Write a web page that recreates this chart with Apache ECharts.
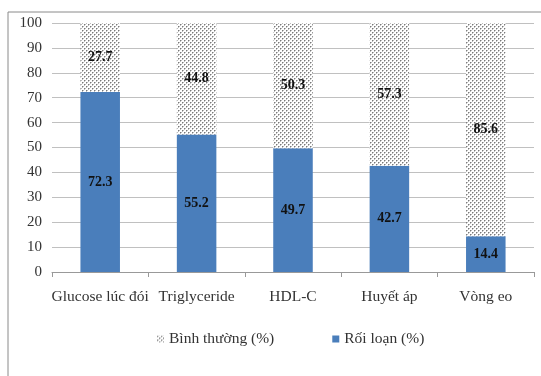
<!DOCTYPE html>
<html>
<head>
<meta charset="utf-8">
<script src="https://cdn.jsdelivr.net/npm/echarts@6/dist/echarts.min.js"></script>
<style>
  html, body { margin: 0; padding: 0; background: #fff; }
  #chart { width: 541px; height: 376px; }
</style>
</head>
<body>
<div id="chart"></div>
<script>
// Metabolic components: share of disordered vs normal (%)
const categories = ['Glucose lúc đói', 'Triglyceride', 'HDL-C', 'Huyết áp', 'Vòng eo'];
const disorderValues = [72.3, 55.2, 49.7, 42.7, 14.4];
const normalValues = [27.7, 44.8, 50.3, 57.3, 85.6];
const yTicks = [0, 10, 20, 30, 40, 50, 60, 70, 80, 90, 100];

// Dotted fill for the "normal" segment
function dotPattern() {
  const c = document.createElement('canvas');
  c.width = 4; c.height = 4;
  const ctx = c.getContext('2d');
  ctx.fillStyle = '#ffffff';
  ctx.fillRect(0, 0, 4, 4);
  ctx.fillStyle = '#7a7a7a';
  ctx.fillRect(0, 0, 1, 1);
  ctx.fillRect(2, 2, 1, 1);
  ctx.fillStyle = '#bdbdbd';
  ctx.fillRect(1, 0, 1, 1);
  ctx.fillRect(3, 2, 1, 1);
  ctx.fillRect(0, 1, 1, 1);
  ctx.fillRect(2, 3, 1, 1);
  return c;
}

const chart = echarts.init(document.getElementById('chart'), null, { renderer: 'canvas' });
const serif = '"Liberation Serif", "DejaVu Serif", serif';
const valueLabel = {
  show: true,
  position: 'inside',
  fontFamily: serif,
  fontWeight: 'bold',
  fontSize: 14,
  color: '#111'
};

chart.setOption({
  animation: false,
  graphic: [{
    type: 'rect',
    shape: { x: 8, y: 12, width: 560, height: 400 },
    style: { fill: 'none', stroke: '#8a8a8a', lineWidth: 1 },
    silent: true,
    z: -1
  }],
  grid: { left: 52, right: 7, top: 23, bottom: 104 },
  legend: {
    data: ['Bình thường (%)', 'Rối loạn (%)'],
    icon: 'rect',
    bottom: 24,
    left: 152,
    itemWidth: 7,
    itemHeight: 7,
    itemGap: 58,
    textStyle: { fontFamily: serif, fontSize: 15.5, color: '#333' }
  },
  xAxis: {
    type: 'category',
    data: categories,
    axisLine: { lineStyle: { color: '#999' } },
    axisTick: { show: true, lineStyle: { color: '#999' }, length: 5 },
    axisLabel: { interval: 0, fontFamily: serif, fontSize: 15.5, color: '#333', margin: 17 }
  },
  yAxis: {
    type: 'value',
    min: yTicks[0],
    max: yTicks[yTicks.length - 1],
    interval: yTicks[1] - yTicks[0],
    axisLine: { show: false },
    axisTick: { show: false },
    axisLabel: { fontFamily: serif, fontSize: 15, color: '#333', margin: 10 },
    splitLine: { lineStyle: { color: '#c0c0c0' } }
  },
  series: [
    {
      name: 'Rối loạn (%)',
      type: 'bar',
      stack: 'total',
      barWidth: '41%',
      data: disorderValues,
      itemStyle: { color: '#4A7EBB' },
      label: valueLabel
    },
    {
      name: 'Bình thường (%)',
      type: 'bar',
      stack: 'total',
      barWidth: '41%',
      data: normalValues,
      itemStyle: { color: { image: dotPattern(), repeat: 'repeat' } },
      label: valueLabel
    }
  ]
});
</script>
</body>
</html>
